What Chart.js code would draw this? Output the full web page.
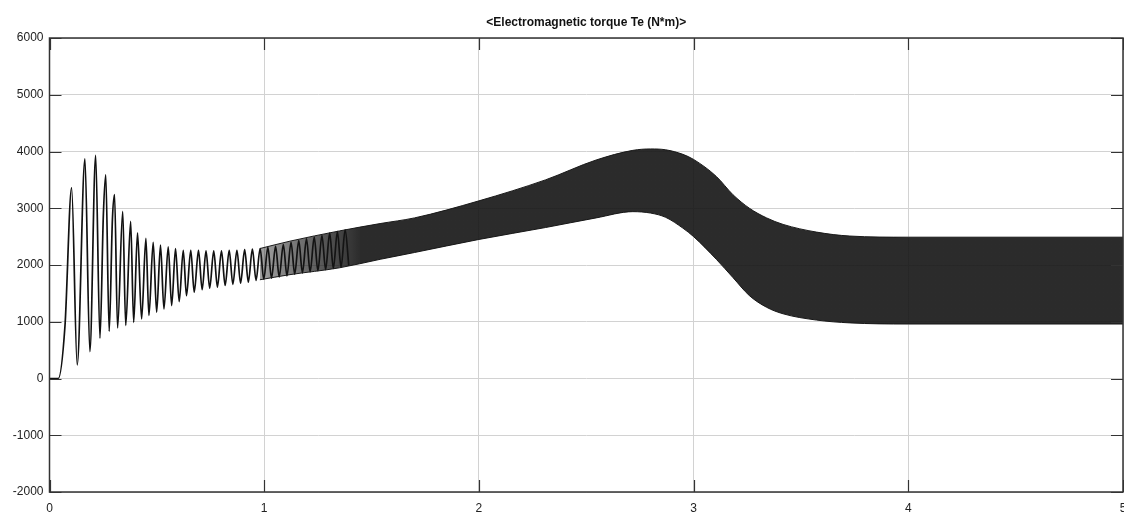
<!DOCTYPE html>
<html>
<head>
<meta charset="utf-8">
<script src="https://cdn.jsdelivr.net/npm/chart.js@4.4.1/dist/chart.umd.min.js"></script>
<style>
  html, body { margin: 0; padding: 0; background: #fff; }
  #wrap { width: 1124px; height: 516px; position: relative; }
</style>
</head>
<body>
<div id="wrap"><canvas id="torque"></canvas></div>
<script>
const titleText = '<Electromagnetic torque Te (N*m)>';

// start-up transient, peaks and troughs (s, N*m)
const earlyT  = [0, 0.041, 0.072, 0.103, 0.129, 0.165, 0.188, 0.215, 0.235, 0.251, 0.262, 0.278, 0.293, 0.303, 0.317,
                 0.341, 0.355, 0.378, 0.392, 0.410, 0.429, 0.449, 0.463, 0.483, 0.499, 0.517, 0.533, 0.553, 0.569,
                 0.587, 0.604, 0.623, 0.638, 0.658, 0.674, 0.694, 0.711, 0.729, 0.746, 0.765, 0.782, 0.801, 0.818,
                 0.837, 0.854, 0.873, 0.890, 0.909, 0.926, 0.945, 0.962, 0.981, 0.998,
                 1.017, 1.034, 1.053, 1.070, 1.089, 1.106, 1.125, 1.142, 1.161, 1.178, 1.197, 1.214,
                 1.233, 1.250, 1.269, 1.286, 1.305, 1.322, 1.341, 1.358, 1.377, 1.394];
const earlyTe = [0, 0, 920, 3360, 240, 3870, 475, 3930, 710, 2900, 3590, 830, 2800, 3240, 890,
                 2945, 935, 2770, 990, 2565, 1050, 2470, 1110, 2400, 1170, 2350, 1225, 2320, 1285,
                 2290, 1355, 2260, 1460, 2260, 1520, 2260, 1565, 2250, 1590, 2250, 1610, 2250, 1640,
                 2260, 1660, 2260, 1680, 2270, 1700, 2280, 1730, 2290, 1750,
                 2310, 1770, 2330, 1790, 2360, 1810, 2400, 1840, 2430, 1860, 2460, 1880,
                 2490, 1900, 2520, 1920, 2560, 1940, 2590, 1960, 2620, 1990];

// dense ripple afterwards: upper and lower envelope of the band
const bandT     = [0.98, 1.12, 1.35, 1.54, 1.7, 2.0, 2.31, 2.546, 2.717, 2.80, 2.87, 2.95, 3.0, 3.106, 3.183, 3.26, 3.34, 3.417, 3.572, 3.728, 4.0, 5.0];
const bandUpper = [2290, 2420, 2600, 2730, 2830, 3130, 3500, 3850, 4020, 4045, 4030, 3950, 3860, 3560, 3240, 3000, 2830, 2715, 2580, 2510, 2490, 2490];
const bandLower = [1740, 1830, 1950, 2100, 2220, 2450, 2660, 2830, 2940, 2915, 2840, 2650, 2500, 2100, 1780, 1460, 1255, 1140, 1030, 980, 960, 960];

const xTicks = [0, 1, 2, 3, 4, 5];
const yTicks = [-2000, -1000, 0, 1000, 2000, 3000, 4000, 5000, 6000];

const toPts = (xs, ys) => xs.map((x, i) => ({ x: x, y: ys[i] }));

// band gets solid once the ripple can no longer be told apart
function bandFill(context) {
    const chart = context.chart;
    const a = chart.chartArea;
    if (!a) return 'rgba(20,20,20,0.9)';
    const xs = chart.scales.x;
    const x0 = xs.getPixelForValue(0.98), x1 = xs.getPixelForValue(1.45);
    const g = chart.ctx.createLinearGradient(x0, 0, x1, 0);
    g.addColorStop(0, 'rgba(20,20,20,0.4)');
    g.addColorStop(1, 'rgba(20,20,20,0.9)');
    return g;
}

// box around the plot, inward ticks on all four sides, title over the plot
const framePlugin = {
    id: 'frame',
    afterDraw(chart) {
        const ctx = chart.ctx;
        const a = chart.chartArea;
        const xs = chart.scales.x, ys = chart.scales.y;
        ctx.save();
        ctx.strokeStyle = '#333';
        ctx.lineWidth = 1.5;
        ctx.strokeRect(a.left, a.top, a.right - a.left, a.bottom - a.top);
        ctx.lineWidth = 1.2;
        ctx.beginPath();
        xTicks.forEach(v => {
            const px = Math.round(xs.getPixelForValue(v)) + 0.5;
            ctx.moveTo(px, a.bottom); ctx.lineTo(px, a.bottom - 12);
            ctx.moveTo(px, a.top); ctx.lineTo(px, a.top + 12);
        });
        yTicks.forEach(v => {
            const py = Math.round(ys.getPixelForValue(v)) + 0.5;
            ctx.moveTo(a.left, py); ctx.lineTo(a.left + 12, py);
            ctx.moveTo(a.right, py); ctx.lineTo(a.right - 12, py);
        });
        ctx.stroke();
        ctx.fillStyle = '#111';
        ctx.font = 'bold 12px "Liberation Sans", Arial, sans-serif';
        ctx.textAlign = 'center';
        ctx.textBaseline = 'middle';
        ctx.fillText(titleText, (a.left + a.right) / 2, 23);
        ctx.restore();
    }
};

new Chart(document.getElementById('torque'), {
    type: 'line',
    data: {
        datasets: [
            {
                data: toPts(bandT, bandUpper),
                borderColor: '#1a1a1a',
                backgroundColor: bandFill,
                borderWidth: 1,
                pointRadius: 0,
                cubicInterpolationMode: 'monotone',
                fill: '+1'
            },
            {
                data: toPts(bandT, bandLower),
                borderColor: '#1a1a1a',
                borderWidth: 1,
                pointRadius: 0,
                cubicInterpolationMode: 'monotone',
                fill: false
            },
            {
                data: toPts(earlyT, earlyTe),
                borderColor: '#111',
                borderWidth: 1.7,
                pointRadius: 0,
                cubicInterpolationMode: 'monotone',
                fill: false
            }
        ]
    },
    options: {
        responsive: true,
        maintainAspectRatio: false,
        animation: false,
        layout: { padding: { top: 38, right: 1, left: 0, bottom: 0 } },
        plugins: {
            legend: { display: false },
            tooltip: { enabled: false },
            title: { display: false }
        },
        scales: {
            x: {
                type: 'linear',
                min: 0,
                max: 5,
                afterBuildTicks(scale) { scale.ticks = xTicks.map(v => ({ value: v })); },
                afterFit(scale) { scale.height = 24; scale.paddingLeft = 0; scale.paddingRight = 0; },
                ticks: {
                    color: '#222',
                    padding: 9,
                    maxRotation: 0,
                    font: { family: '"Liberation Sans", Arial, sans-serif', size: 12 },
                    callback: v => String(v)
                },
                grid: { color: '#d2d2d2', lineWidth: 1, drawTicks: false },
                border: { display: false }
            },
            y: {
                min: -2000,
                max: 6000,
                afterBuildTicks(scale) { scale.ticks = yTicks.map(v => ({ value: v })); },
                afterFit(scale) { scale.width = 49.5; },
                ticks: {
                    color: '#222',
                    padding: 6,
                    font: { family: '"Liberation Sans", Arial, sans-serif', size: 12 },
                    callback: v => String(v)
                },
                grid: { color: '#d2d2d2', lineWidth: 1, drawTicks: false },
                border: { display: false }
            }
        }
    },
    plugins: [framePlugin]
});
</script>
</body>
</html>
